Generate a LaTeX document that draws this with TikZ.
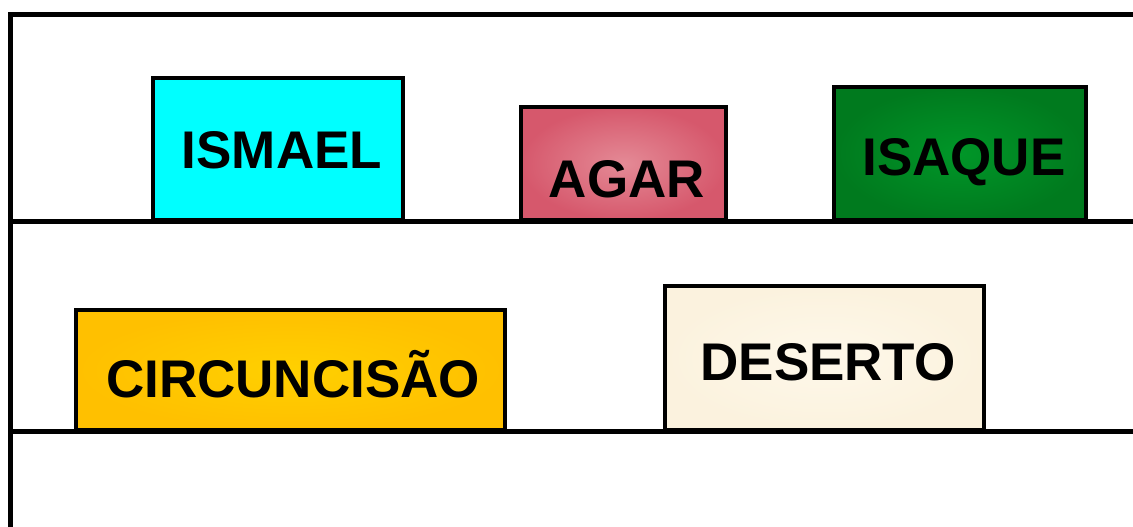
\documentclass[tikz,border=0pt]{standalone}
\usepackage{fontspec}
\setmainfont{Liberation Sans}
\definecolor{boxcyan}{RGB}{0,255,255}
\begin{document}
\begin{tikzpicture}[x=1pt,y=-1pt,
  frameline/.style={line width=5pt,black},
  shelfbox/.style={draw=black,line width=4pt,rectangle,inner sep=0pt},
  lbl/.style={anchor=base,inner sep=0pt,font=\fontsize{53}{60}\selectfont\bfseries}]
\useasboundingbox (0,0) rectangle (1133,527);
% frame and shelves
\coordinate (tl) at (10,14.5);
\coordinate (tr) at (1140,14.5);
\coordinate (bl) at (10,530);
\coordinate (s1l) at (10,221);
\coordinate (s1r) at (1140,221);
\coordinate (s2l) at (10,431);
\coordinate (s2r) at (1140,431);
% boxes
\node[shelfbox,fill=boxcyan,minimum width=250pt,minimum height=142pt] (bismael) at (278,149) {};
\node[shelfbox,inner color={rgb,255:red,228;green,138;blue,150},outer color={rgb,255:red,214;green,88;blue,108},minimum width=205pt,minimum height=113pt] (bagar) at (623.5,163.5) {};
\node[shelfbox,inner color={rgb,255:red,0;green,150;blue,40},outer color={rgb,255:red,0;green,122;blue,30},minimum width=252pt,minimum height=133pt] (bisaque) at (960,153.5) {};
\node[shelfbox,inner color={rgb,255:red,255;green,208;blue,0},outer color={rgb,255:red,255;green,192;blue,0},minimum width=429pt,minimum height=120pt] (bcirc) at (290.5,370) {};
\node[shelfbox,inner color={rgb,255:red,254;green,248;blue,234},outer color={rgb,255:red,251;green,242;blue,222},minimum width=319pt,minimum height=144pt] (bdeserto) at (824.5,358) {};
\draw[frameline] (bl) -- (tl) -- (tr);
\draw[frameline] (s1l) -- (s1r);
\draw[frameline] (s2l) -- (s2r);
% labels
\node[lbl] (tismael) at (282,168) {ISMAEL};
\node[lbl] (tagar) at (627,197) {AGAR};
\node[lbl] (tisaque) at (964,175) {ISAQUE};
\node[lbl] (tcirc) at (293,397) {CIRCUNCISÃO};
\node[lbl] (tdeserto) at (828,380) {DESERTO};
\end{tikzpicture}
\end{document}
